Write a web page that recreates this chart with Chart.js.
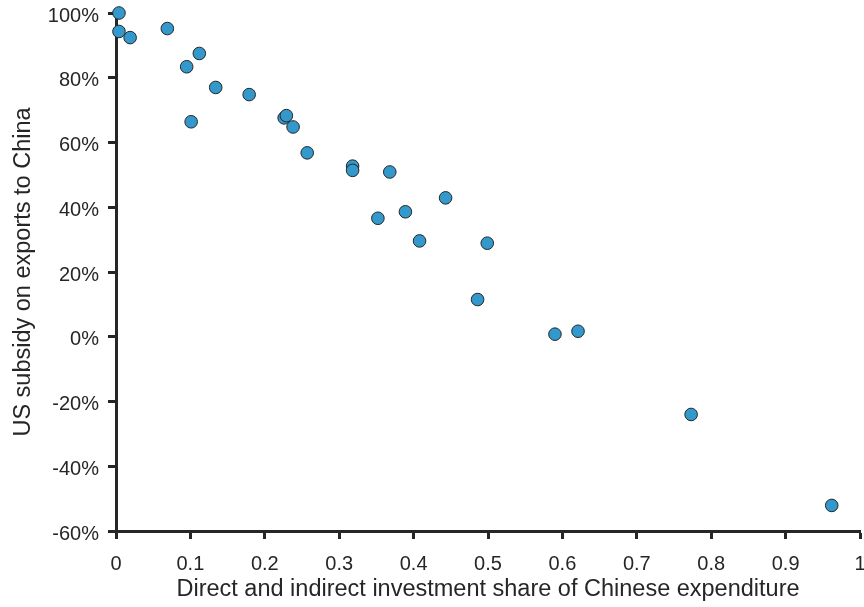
<!DOCTYPE html>
<html>
<head>
<meta charset="utf-8">
<script src="https://cdn.jsdelivr.net/npm/chart.js@4"></script>
<style>
html,body{margin:0;padding:0;background:#fff;}
canvas{display:block;}
</style>
</head>
<body>
<canvas id="c" width="864" height="607"></canvas>
<script>
// Data
const investmentShare = [0.004, 0.004, 0.019, 0.069, 0.095, 0.112, 0.101, 0.134, 0.179, 0.226, 0.229, 0.238, 0.257, 0.318, 0.318, 0.368, 0.352, 0.389, 0.443, 0.408, 0.499, 0.486, 0.590, 0.621, 0.773, 0.962];
const subsidyPct      = [100.0, 94.3, 92.4, 95.2, 83.4, 87.5, 66.4, 77.0, 74.8, 67.6, 68.3, 64.8, 56.8, 52.7, 51.4, 50.9, 36.6, 38.6, 42.9, 29.6, 28.9, 11.5, 0.8, 1.7, -24.0, -52.1];
const xTickValues = [0, 0.1, 0.2, 0.3, 0.4, 0.5, 0.6, 0.7, 0.8, 0.9, 1];
const xTickLabels = ["0", "0.1", "0.2", "0.3", "0.4", "0.5", "0.6", "0.7", "0.8", "0.9", "1"];
const yTickValues = [-60, -40, -20, 0, 20, 40, 60, 80, 100];
const yTickLabels = ["-60%", "-40%", "-20%", "0%", "20%", "40%", "60%", "80%", "100%"];
const xTitle = "Direct and indirect investment share of Chinese expenditure";
const yTitle = "US subsidy on exports to China";

const points = investmentShare.map((x, i) => ({x: x, y: subsidyPct[i]}));
const textColor = '#262626';
const fontFamily = '"Liberation Sans", Arial, sans-serif';

new Chart(document.getElementById('c'), {
  type: 'scatter',
  data: {
    datasets: [{
      data: points,
      backgroundColor: '#3399cc',
      borderColor: '#262626',
      borderWidth: 1,
      pointRadius: 6.3,
      clip: false
    }]
  },
  options: {
    responsive: false,
    animation: false,
    layout: {autoPadding: false, padding: {left: 0, top: 13, right: 4, bottom: 0}},
    plugins: {legend: {display: false}, tooltip: {enabled: false}},
    scales: {
      x: {
        type: 'linear',
        min: 0, max: 1,
        afterFit: s => { s.height = 76; s.paddingLeft = 0; s.paddingRight = 0; },
        afterBuildTicks: s => { s.ticks = xTickValues.map(v => ({value: v})); },
        ticks: {
          callback: (v, i) => xTickLabels[i],
          color: textColor,
          font: {family: fontFamily, size: 20},
          padding: 13,
          maxRotation: 0,
          autoSkip: false
        },
        grid: {display: true, drawOnChartArea: false, drawTicks: true, tickLength: 8, tickWidth: 3, tickColor: textColor},
        border: {display: true, color: textColor, width: 3},
        title: {display: true, text: xTitle, color: textColor, font: {family: fontFamily, size: 23.5}, padding: {top: 0, bottom: 3}}
      },
      y: {
        type: 'linear',
        min: -60, max: 100,
        afterFit: s => { s.width = 116; s.paddingTop = 0; s.paddingBottom = 0; },
        afterBuildTicks: s => { s.ticks = yTickValues.map(v => ({value: v})); },
        ticks: {
          callback: (v, i) => yTickLabels[i],
          color: textColor,
          font: {family: fontFamily, size: 20},
          padding: 9,
          labelOffset: 3,
          autoSkip: false
        },
        grid: {display: true, drawOnChartArea: false, drawTicks: true, tickLength: 8, tickWidth: 3, tickColor: textColor},
        border: {display: true, color: textColor, width: 3},
        title: {display: true, text: yTitle, color: textColor, font: {family: fontFamily, size: 23.5}, padding: {top: 9, bottom: 0}}
      }
    }
  }
});
</script>
</body>
</html>
